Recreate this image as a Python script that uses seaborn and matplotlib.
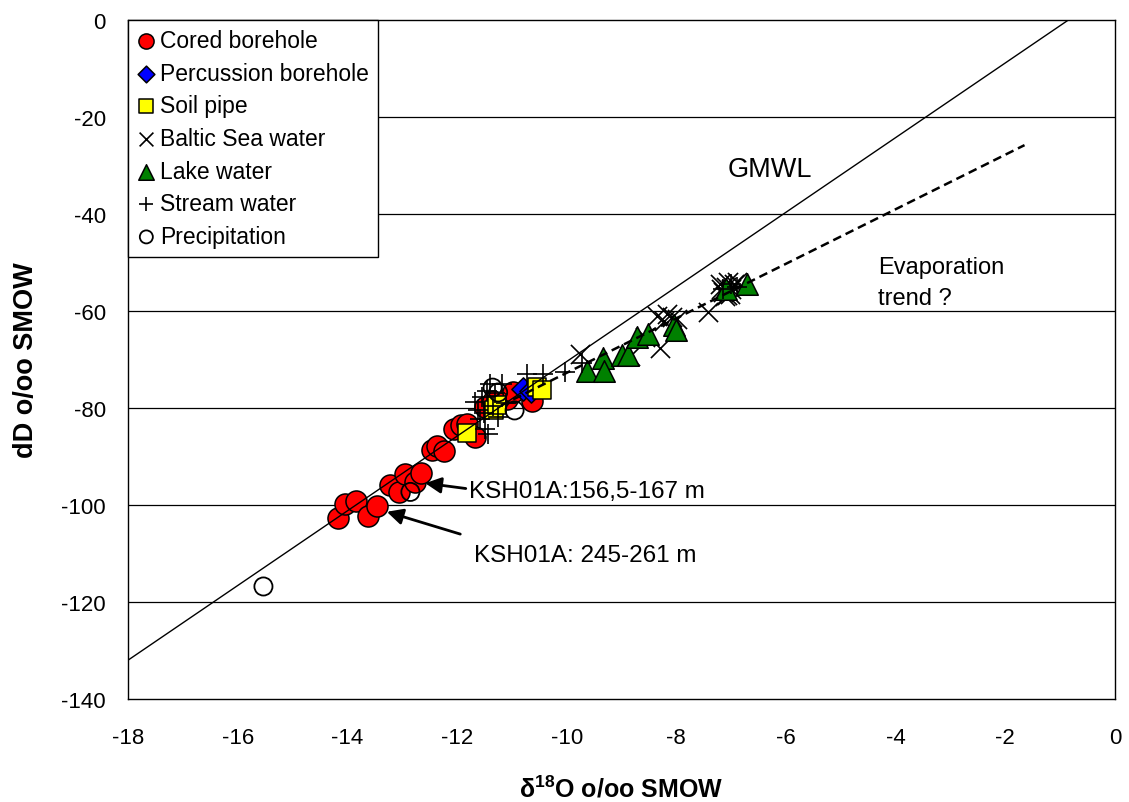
import matplotlib
matplotlib.use("Agg")
import matplotlib.pyplot as plt
import seaborn as sns
import pandas as pd

# Isotope data: delta-18O (x) and delta-D (y), per o/oo SMOW
cored_x = [-14.17, -14.05, -13.84, -13.63, -13.45, -13.22, -13.05, -12.95, -12.77, -12.65,
           -12.45, -12.36, -12.23, -12.05, -11.93, -11.82, -11.67, -11.49, -11.35, -11.09,
           -10.98, -10.63]
cored_y = [-102.6, -99.8, -99.2, -102.2, -100.3, -95.9, -97.4, -93.6, -95.2, -93.4,
           -88.6, -87.8, -88.9, -84.3, -83.6, -83.3, -86.0, -79.8, -78.5, -78.1,
           -76.7, -78.6]

percussion_x = [-10.80, -10.65]
percussion_y = [-76.0, -76.4]

soil_x = [-11.82, -11.33, -11.27, -10.55, -10.45]
soil_y = [-85.2, -80.5, -79.3, -75.7, -76.3]

baltic_x = [-9.76, -8.84, -8.30, -8.57, -8.22, -8.08, -8.35, -8.17, -7.99, -7.42,
            -7.20, -7.15, -7.10, -7.05, -7.00, -6.95, -6.90, -7.12, -7.07, -7.02, -7.18]
baltic_y = [-68.9, -69.3, -67.6, -65.4, -62.1, -61.2, -61.0, -60.6, -61.6, -60.2,
            -54.5, -56.0, -55.0, -54.0, -55.5, -54.5, -54.0, -57.0, -56.7, -56.5, -55.5]

lake_x = [-9.63, -9.34, -9.32, -8.99, -8.88, -8.72, -8.52, -8.04, -8.01, -7.09, -6.71]
lake_y = [-72.4, -69.7, -72.4, -69.1, -69.1, -65.4, -64.7, -62.9, -63.9, -55.5, -54.4]

stream_x = [-11.67, -11.54, -11.40, -11.18, -11.58, -11.49, -11.43, -11.62, -11.50, -11.35,
            -11.30, -11.25, -11.45, -10.72, -10.43, -10.03, -9.72, -11.10, -7.15, -7.00, -6.90]
stream_y = [-78.8, -77.7, -75.0, -75.0, -82.3, -84.3, -85.4, -80.5, -81.0, -79.5,
            -77.0, -81.8, -76.5, -73.0, -73.0, -72.6, -70.8, -79.0, -55.5, -54.5, -55.0]

precip_x = [-15.53, -12.85, -11.35, -11.25, -10.95]
precip_y = [-116.8, -97.3, -75.8, -76.8, -80.5]

# Reference lines
gmwl_x = [-18.0, -0.85]
gmwl_y = [-132.0, 0.0]
evap_x = [-11.2, -1.65]
evap_y = [-79.5, -25.8]

x_ticks = [-18, -16, -14, -12, -10, -8, -6, -4, -2, 0]
y_ticks = [-140, -120, -100, -80, -60, -40, -20, 0]

sns.set_style("white")
plt.rcParams["font.family"] = ["Liberation Sans", "DejaVu Sans"]
plt.rcParams["text.color"] = "black"
plt.rcParams["axes.labelcolor"] = "black"
plt.rcParams["xtick.color"] = "black"
plt.rcParams["ytick.color"] = "black"
plt.rcParams["mathtext.fontset"] = "custom"
plt.rcParams["mathtext.rm"] = "Liberation Sans:bold"
plt.rcParams["mathtext.bf"] = "Liberation Sans:bold"
plt.rcParams["mathtext.default"] = "bf"

fig = plt.figure(figsize=(11.29, 8.03), dpi=100)
ax = fig.add_axes([128 / 1129, 1 - 700 / 803, (1115 - 128) / 1129, (700 - 21) / 803])

edge_lw = 1.1
series = [
    ("Cored borehole", cored_x, cored_y, dict(marker="o", s=230, color="#ff0000", edgecolor="black", linewidth=edge_lw)),
    ("Percussion borehole", percussion_x, percussion_y, dict(marker="D", s=140, color="#0000ff", edgecolor="black", linewidth=edge_lw)),
    ("Soil pipe", soil_x, soil_y, dict(marker="s", s=180, color="#ffff00", edgecolor="black", linewidth=edge_lw)),
    ("Baltic Sea water", baltic_x, baltic_y, dict(marker="x", s=190, color="black", linewidth=1.2)),
    ("Lake water", lake_x, lake_y, dict(marker="^", s=240, color="#008000", edgecolor="black", linewidth=edge_lw)),
    ("Stream water", stream_x, stream_y, dict(marker="+", s=220, color="black", linewidth=1.2)),
    ("Precipitation", precip_x, precip_y, dict(marker="o", s=170, color="none", edgecolor="black", linewidth=1.3)),
]

for i, (name, xs, ys, kw) in enumerate(series):
    df = pd.DataFrame({"d18O": xs, "dD": ys})
    sns.scatterplot(data=df, x="d18O", y="dD", ax=ax, label=name, zorder=3 + i, **kw)

lines_df = pd.DataFrame({"x": gmwl_x, "y": gmwl_y})
sns.lineplot(data=lines_df, x="x", y="y", ax=ax, color="black", linewidth=1.0,
             legend=False, zorder=20, estimator=None, sort=False)
evap_df = pd.DataFrame({"x": evap_x, "y": evap_y})
sns.lineplot(data=evap_df, x="x", y="y", ax=ax, color="black", linewidth=1.8,
             legend=False, zorder=20, estimator=None, sort=False)
ax.lines[-1].set_dashes((3.5, 2.0))

ax.set_xlim(-18, 0)
ax.set_ylim(-140, 0)
ax.set_xticks(x_ticks)
ax.set_yticks(y_ticks)
ax.set_xticklabels([str(t) for t in x_ticks])
ax.set_yticklabels([str(t) for t in y_ticks])
ax.tick_params(axis="both", direction="out", length=5, width=1, color="black",
               labelsize=16, labelcolor="black")
ax.tick_params(axis="x", pad=15)
ax.tick_params(axis="y", pad=11)

for yv in y_ticks[1:-1]:
    ax.axhline(yv, color="black", linewidth=0.9, zorder=1)

for sp in ax.spines.values():
    sp.set_visible(True)
    sp.set_color("black")
    sp.set_linewidth(1.0)

ax.set_xlabel(r"$\delta^{18}$O o/oo SMOW", fontsize=18, fontweight="bold", labelpad=20)
ax.set_ylabel("dD o/oo SMOW", fontsize=19.5, fontweight="bold", labelpad=16)

ax.text(-7.06, -30.7, "GMWL", fontsize=19.5, va="center", ha="left")
ax.text(-4.32, -50.9, "Evaporation", fontsize=17, va="center", ha="left")
ax.text(-4.32, -57.3, "trend ?", fontsize=17, va="center", ha="left")

arrow = dict(arrowstyle="-|>", color="black", linewidth=2.0, mutation_scale=24,
             shrinkA=0, shrinkB=0)
ax.annotate("", xy=(-12.58, -95.5), xytext=(-11.84, -96.6), arrowprops=arrow, zorder=25)
ax.text(-11.78, -97.2, "KSH01A:156,5-167 m", fontsize=17.5, va="center", ha="left")
ax.annotate("", xy=(-13.28, -101.4), xytext=(-11.94, -106.0), arrowprops=arrow, zorder=25)
ax.text(-11.69, -110.3, "KSH01A: 245-261 m", fontsize=17.5, va="center", ha="left")

leg = ax.legend(loc="upper left", bbox_to_anchor=(0, 1), borderaxespad=0.0,
                fontsize=16.5, frameon=True, fancybox=False, shadow=False,
                handlelength=0.8, handletextpad=0.2, borderpad=0.4,
                labelspacing=0.42, markerscale=0.72)
leg.get_frame().set_edgecolor("black")
leg.get_frame().set_linewidth(1.0)
leg.get_frame().set_alpha(1.0)
leg.set_zorder(30)

fig.savefig("out.png", dpi=100)
